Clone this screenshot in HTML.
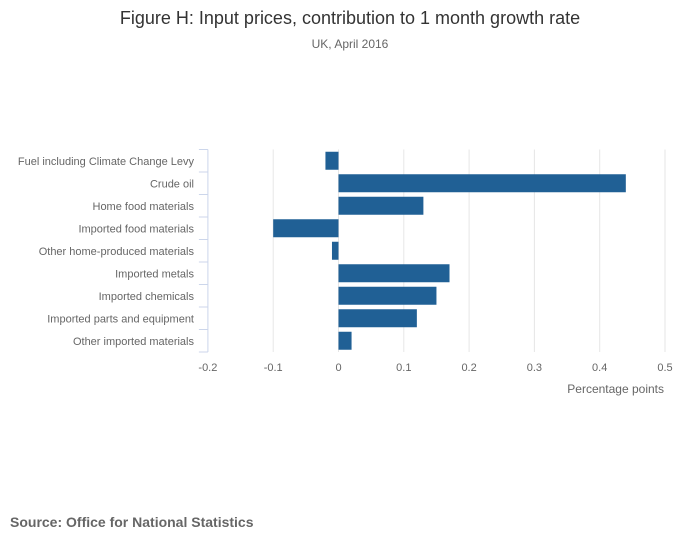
<!DOCTYPE html>
<html><head><meta charset="utf-8"><style>
body{margin:0;background:#fff;font-family:"Liberation Sans",sans-serif;}
svg text{font-family:"Liberation Sans",sans-serif;}
</style></head><body>
<svg width="700" height="549" id="c">
<text x="350" y="24" text-anchor="middle" font-size="18" fill="#333">Figure H: Input prices, contribution to 1 month growth rate</text>
<text x="350" y="48" text-anchor="middle" font-size="12" fill="#666">UK, April 2016</text>
<text x="664" y="393" text-anchor="end" font-size="12" fill="#666">Percentage points</text>
<text x="10" y="527" font-size="14" font-weight="bold" fill="#666">Source: Office for National Statistics</text>
<g id="grid"></g><g id="bars"></g><g id="axis"></g>
</svg>
<script>
const categories=["Fuel including Climate Change Levy","Crude oil","Home food materials","Imported food materials","Other home-produced materials","Imported metals","Imported chemicals","Imported parts and equipment","Other imported materials"];
const values=[-0.02,0.44,0.13,-0.1,-0.01,0.17,0.15,0.12,0.02];
const ticks=[-0.2,-0.1,0,0.1,0.2,0.3,0.4,0.5];
const tickLabels=["-0.2","-0.1","0","0.1","0.2","0.3","0.4","0.5"];
const NS="http://www.w3.org/2000/svg";
const x0=207.9,x1=665,yTop=149.5,yBot=352;
const xs=v=>x0+(v-(-0.2))/(0.7)*(x1-x0);
const band=(yBot-yTop)/categories.length;
function mk(t,a,p){const e=document.createElementNS(NS,t);for(const k in a)e.setAttribute(k,a[k]);p.appendChild(e);return e;}
const G=document.getElementById('grid'),B=document.getElementById('bars'),A=document.getElementById('axis');
ticks.forEach((t,i)=>{
 if(i>0){const l=mk('line',{x1:xs(t),x2:xs(t),y1:yTop,y2:yBot,stroke:'#e6e6e6','stroke-width':1},G);
 
 }
 const tx=mk('text',{x:xs(t),y:371,'text-anchor':'middle','font-size':11,fill:'#666'},A);tx.textContent=tickLabels[i];
 
 
});
const ax=mk('line',{x1:x0,x2:x0,y1:yTop,y2:yBot,stroke:'#ccd6eb','stroke-width':1},A);


for(let i=0;i<=categories.length;i++){const y=yTop+i*band;
 const tk=mk('line',{x1:x0-9,x2:x0,y1:y,y2:y,stroke:'#ccd6eb','stroke-width':1},A);
 
 }
categories.forEach((c,i)=>{const cy=yTop+(i+0.5)*band;
 const tx=mk('text',{x:194,y:cy+4,'text-anchor':'end','font-size':11,fill:'#666'},A);tx.textContent=c;
 
 
 const v=values[i],a=xs(0),b=xs(v);
 const r=mk('rect',{x:Math.min(a,b),y:cy-9,width:Math.abs(b-a),height:18,fill:'#206095'},B);
 
 
});
</script>
</body></html>
